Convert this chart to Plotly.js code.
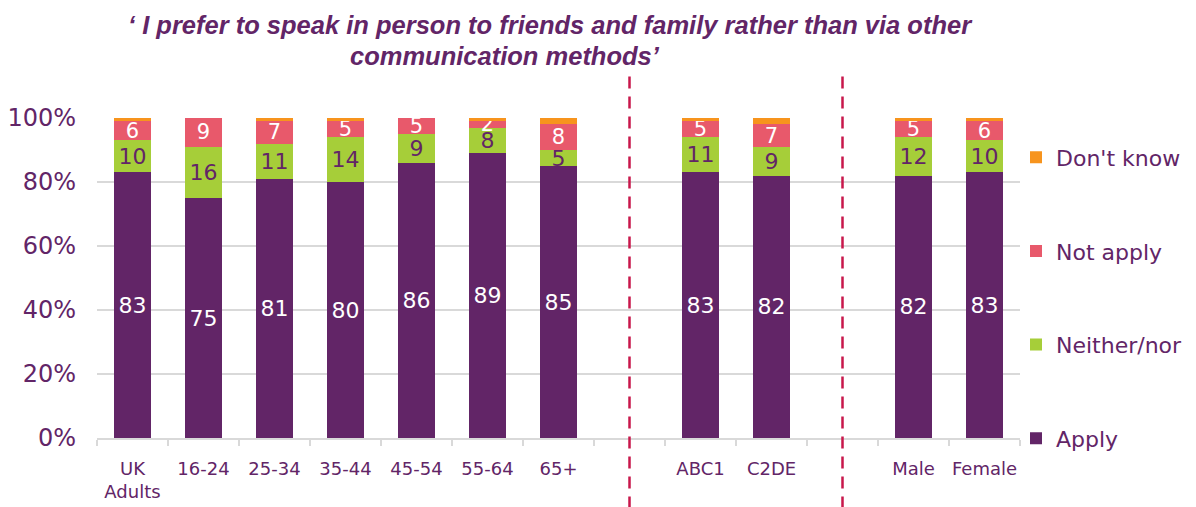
<!DOCTYPE html>
<html>
<head>
<meta charset="utf-8">
<script src="https://cdn.plot.ly/plotly-3.0.1.min.js"></script>
<style>html,body{margin:0;padding:0;background:#fff;}#chart{width:1196px;height:507px;}</style>
</head>
<body>
<div id="chart"></div>
<script>
const allCategories = ['UK<br>Adults','16-24','25-34','35-44','45-54','55-64','65+',' ','ABC1','C2DE','  ','Male','Female'];
const categories = ['UK<br>Adults','16-24','25-34','35-44','45-54','55-64','65+','ABC1','C2DE','Male','Female'];
const applyVals   = [83,75,81,80,86,89,85,83,82,82,83];
const neitherVals = [10,16,11,14,9,8,5,11,9,12,10];
const notApplyVals= [6,9,7,5,5,2,8,5,7,5,6];
const dontKnowVals= [1,0,1,1,0,1,2,1,2,1,1];
const separators = [' ','  '];

const PURPLE='#622567', GREEN='#A6CE39', RED='#E8596B', ORANGE='#F7941D', GRID='#D9D9D9', DASH='#C8174B';
const F='DejaVu Sans';

function trace(name, vals, color, textColor, textSize, showText, rank){
  return {
    type:'bar', name:name, x:categories, y:vals, legendgroup:name, legendrank:rank,
    marker:{color:color},
    text: showText ? vals.map(String) : undefined,
    textposition: showText ? 'inside' : 'none',
    insidetextanchor:'middle',
    textangle:0, constraintext:'none',
    insidetextfont:{family:F, size:textSize, color:textColor},
    hoverinfo:'skip'
  };
}
const data = [
  trace('Apply', applyVals, PURPLE, '#FFFFFF', 22, true, 4),
  trace('Neither/nor', neitherVals, GREEN, PURPLE, 22, true, 3),
  trace('Not apply', notApplyVals, RED, '#FFFFFF', 21, true, 2),
  trace("Don't know", dontKnowVals, ORANGE, '#FFFFFF', 20, false, 1)
];

const layout = {
  width:1196, height:507,
  margin:{l:97, r:176, t:118, b:69, autoexpand:false},
  paper_bgcolor:'#FFFFFF', plot_bgcolor:'#FFFFFF',
  barmode:'stack', bargap:0.49,
  font:{family:F, color:PURPLE},
  xaxis:{type:'category', categoryorder:'array', categoryarray:allCategories,
    tickson:'boundaries', ticks:'outside', ticklen:6, tickwidth:2, tickcolor:GRID,
    showline:true, linecolor:GRID, linewidth:2, showgrid:false, zeroline:false,
    tickangle:0, ticklabelstandoff:13, automargin:false,
    tickfont:{family:F, size:18, color:PURPLE}, fixedrange:true},
  yaxis:{range:[0,100], dtick:20, ticksuffix:'%', showgrid:true, gridcolor:GRID, gridwidth:2,
    zeroline:false, showline:false, ticks:'', ticklabelstandoff:20, automargin:false,
    tickfont:{family:F, size:24, color:PURPLE}, fixedrange:true},
  showlegend:true,
  legend:{x:1, xanchor:'left', y:0.942, yanchor:'top', traceorder:'grouped',
    tracegroupgap:62, font:{family:F, size:22, color:PURPLE}, bgcolor:'rgba(0,0,0,0)'},
  shapes: separators.map(s => ({type:'line', xref:'x', yref:'paper',
    x0: allCategories.indexOf(s), x1: allCategories.indexOf(s), y0:-0.22, y1:1.15,
    line:{color:DASH, width:2.5, dash:'12px,8px'}})),
  annotations:[
    {xref:'paper', yref:'paper', x:0.491, y:(507-25-69)/320, xanchor:'center', yanchor:'middle', showarrow:false,
     text:'<b><i>‘ I prefer to speak in person to friends and family rather than via other</i></b>',
     font:{family:'Liberation Sans', size:25.5, color:PURPLE}},
    {xref:'paper', yref:'paper', x:0.442, y:(507-56-69)/320, xanchor:'center', yanchor:'middle', showarrow:false,
     text:'<b><i>communication methods’</i></b>',
     font:{family:'Liberation Sans', size:25.5, color:PURPLE}}
  ]
};
layout.legend.x = 1 + (1016 - 1020) / 923;
Plotly.newPlot('chart', data, layout, {displayModeBar:false, staticPlot:true});
</script>
</body>
</html>
